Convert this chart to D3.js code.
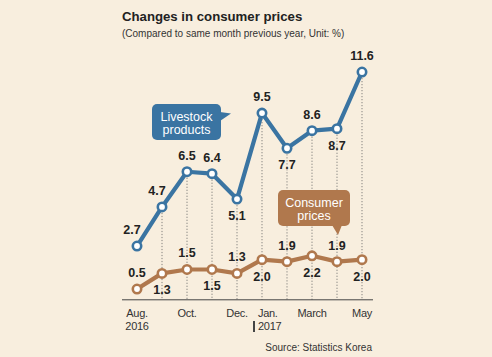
<!DOCTYPE html>
<html><head><meta charset="utf-8">
<script src="https://cdn.jsdelivr.net/npm/d3@7"></script>
<style>
html,body{margin:0;padding:0;background:#f8eede;}
svg{display:block;font-family:"Liberation Sans",Arial,sans-serif;}
</style></head>
<body>
<svg id="chart" width="492" height="357"></svg>
<script>
const months = ["Aug","Sep","Oct","Nov","Dec","Jan","Feb","Mar","Apr","May"];
const livestock = [2.7, 4.7, 6.5, 6.4, 5.1, 9.5, 7.7, 8.6, 8.7, 11.6];
const consumer = [0.5, 1.3, 1.5, 1.5, 1.3, 2.0, 1.9, 2.2, 1.9, 2.0];
const livestockLabelPos = ["above","above","above","above","below","above","below","above","below","above"];
const consumerLabelPos = ["above","below","above","below","above","below","above","below","above","below"];
const tickLabels = [
  {m:"Aug", l1:"Aug.", l2:"2016"},
  {m:"Oct", l1:"Oct.", l2:""},
  {m:"Dec", l1:"Dec.", l2:""},
  {m:"Jan", l1:"Jan.", l2:"2017"},
  {m:"Mar", l1:"March", l2:""},
  {m:"May", l1:"May", l2:""}
];

const blue = "#3a74a2", orange = "#b0784d", ink = "#222";
const svg = d3.select("#chart");
svg.append("rect").attr("width",492).attr("height",357).attr("fill","#f8eede");

const x = d3.scalePoint().domain(months).range([137, 362]);
const y = d3.scaleLinear().domain([0, 12]).range([298.8, 298.8 - 12*19.55]);

// title
svg.append("text").attr("x",122).attr("y",21).attr("font-size",13.2).attr("font-weight","bold").attr("fill",ink)
  .text("Changes in consumer prices");
svg.append("text").attr("x",122).attr("y",37).attr("font-size",10).attr("fill","#333")
  .text("(Compared to same month previous year, Unit: %)");

// dotted guides
svg.append("g").selectAll("line").data(months.slice(1)).join("line")
  .attr("x1",d=>x(d)).attr("x2",d=>x(d))
  .attr("y1",d=>y(livestock[months.indexOf(d)])).attr("y2",y(0)+1)
  .attr("stroke","#666").attr("stroke-width",0.8).attr("stroke-dasharray","1.2,1.8");

// axis
const axis = d3.axisBottom(x).tickSize(0).tickFormat("");
const ax = svg.append("g").attr("transform",`translate(0,${y(0)+1})`).call(axis);
ax.select(".domain").attr("d","M122,0H373").attr("stroke","#444").attr("stroke-width",1);

// tick labels
const tl = svg.append("g").attr("font-size",11).attr("fill","#333");
tickLabels.forEach(t=>{
  const isJan = t.m==="Jan";
  const tx = isJan ? x(t.m)-4 : x(t.m);
  const anchor = isJan ? "start" : "middle";
  tl.append("text").attr("x",tx).attr("y",317).attr("text-anchor",anchor).attr("fill","#333").attr("letter-spacing","-0.3").text(t.l1);
  if (t.l2) tl.append("text").attr("x",tx).attr("y",329.5).attr("text-anchor",anchor).attr("fill","#333").attr("letter-spacing","-0.3").text(t.l2);
});
svg.append("rect").attr("x",x("Jan")-9).attr("y",321).attr("width",2).attr("height",11).attr("fill","#444");

// lines
const line = d3.line().x((d,i)=>x(months[i])).y(d=>y(d));
function series(vals, color, pos){
  svg.append("path").datum(vals).attr("d",line).attr("fill","none").attr("stroke",color)
    .attr("stroke-width",4.2).attr("stroke-linejoin","round");
  svg.append("g").selectAll("circle").data(vals).join("circle")
    .attr("cx",(d,i)=>x(months[i])).attr("cy",d=>y(d)).attr("r",4.2)
    .attr("fill","#fff").attr("stroke",color).attr("stroke-width",2.6);
  svg.append("g").selectAll("text").data(vals).join("text")
    .attr("x",(d,i)=>x(months[i]) + (i<2 && color===blue ? -5 : 0))
    .attr("y",(d,i)=>y(d) + (pos[i]==="above" ? -12 : 21))
    .attr("text-anchor","middle").attr("font-size",12.5).attr("font-weight","bold").attr("fill",ink)
    .text(d=>d.toFixed(1));
}
series(livestock, blue, livestockLabelPos);
series(consumer, orange, consumerLabelPos);

// callouts
function callout(bx,by,w,h,color,tri,lines){
  const g = svg.append("g");
  g.append("rect").attr("x",bx).attr("y",by).attr("width",w).attr("height",h).attr("rx",5).attr("fill",color);
  g.append("path").attr("d","M"+tri.map(p=>p.join(",")).join("L")+"Z").attr("fill",color);
  lines.forEach((t,i)=>g.append("text").attr("x",bx+w/2).attr("y",by+16.5+i*13.5)
    .attr("text-anchor","middle").attr("font-size",12.5).attr("fill","#fff").text(t));
}
callout(152,104,69,36,blue,[[220,112],[231,113.5],[220,121]],["Livestock","products"]);
callout(278,190,72,36,orange,[[332,225],[342,225],[338,235]],["Consumer","prices"]);

// source
svg.append("text").attr("x",372).attr("y",351).attr("text-anchor","end").attr("font-size",10).attr("fill","#333")
  .text("Source: Statistics Korea");
</script>
</body></html>
